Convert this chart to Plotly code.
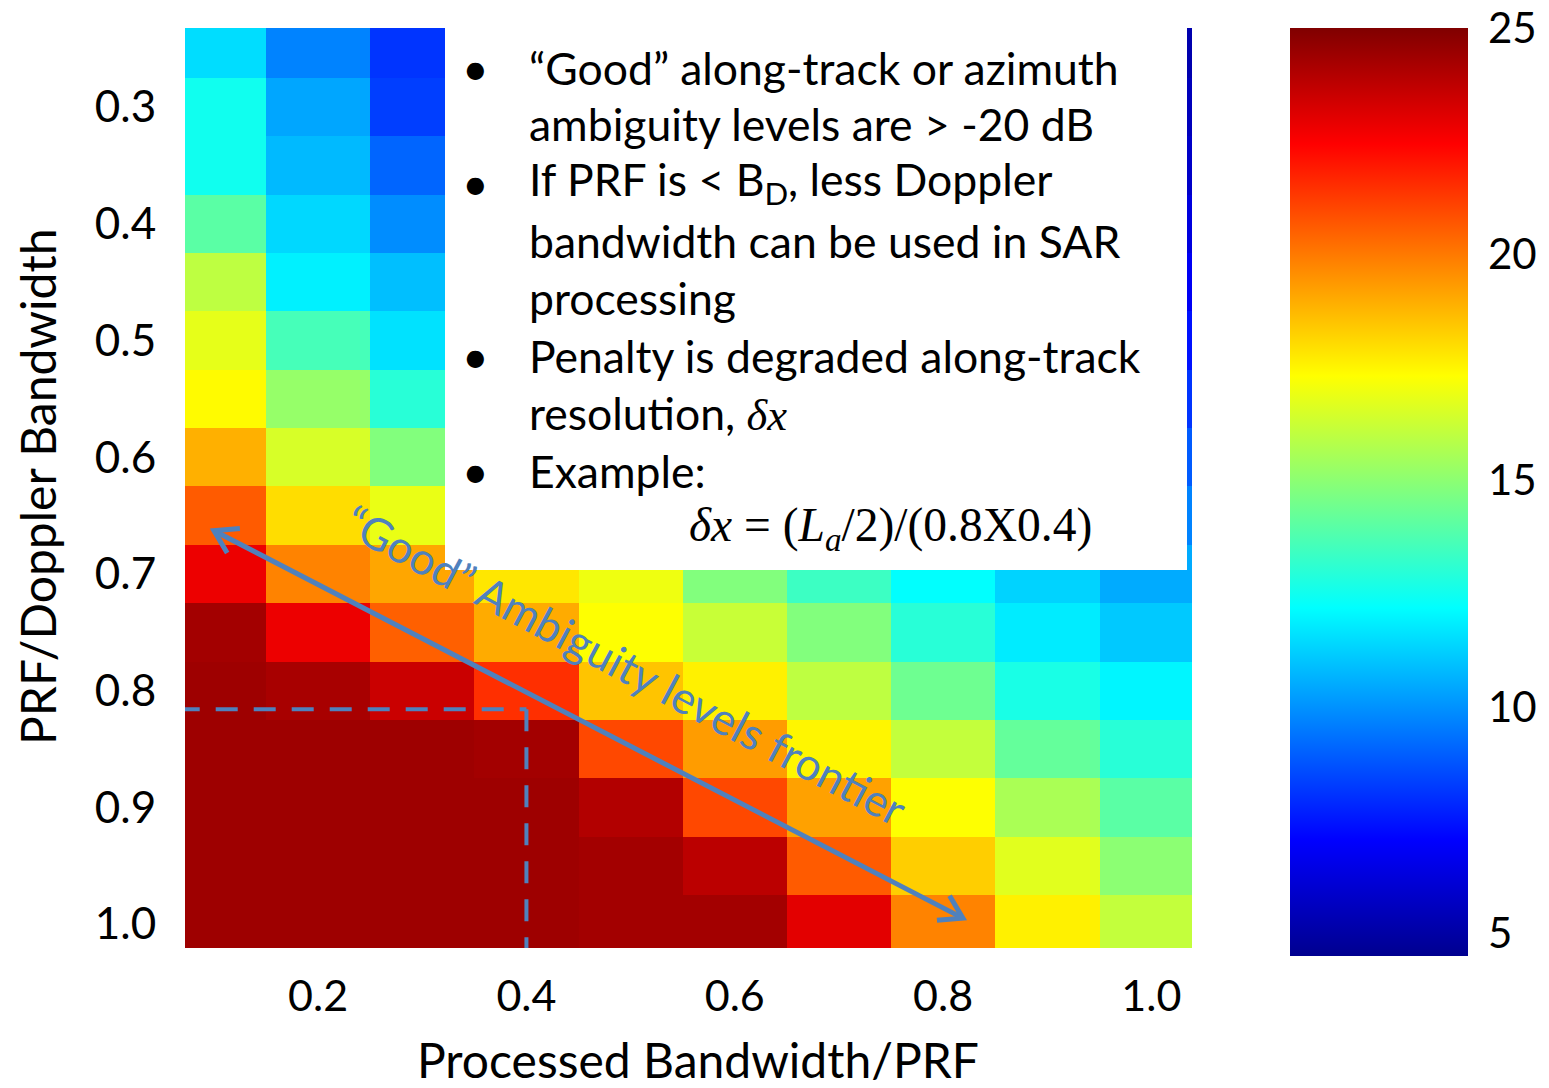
import numpy as np
import plotly.graph_objects as go

# ---------------- data ----------------
bw_ratio = [0.1, 0.2, 0.3, 0.4, 0.5, 0.6, 0.7, 0.8, 0.9, 1.0]          # Processed Bandwidth / PRF
prf_ratio = [0.25, 0.30, 0.35, 0.40, 0.45, 0.50, 0.55, 0.60,
             0.65, 0.70, 0.75, 0.80, 0.85, 0.90, 0.95, 1.00]           # PRF / Doppler Bandwidth

row_025 = [11.5, 9.7, 8.1, 7.5, 7.0, 6.6, 6.2, 5.8, 5.5, 5.2]
row_030 = [12.5, 10.4, 8.3, 7.8, 7.3, 6.9, 6.5, 6.1, 5.8, 5.5]
row_035 = [12.5, 10.8, 9.1, 8.3, 7.8, 7.3, 6.9, 6.5, 6.2, 5.8]
row_040 = [14.0, 11.4, 9.9, 9.0, 8.4, 7.9, 7.4, 7.0, 6.6, 6.3]
row_045 = [16.0, 11.9, 10.9, 9.8, 9.1, 8.6, 8.1, 7.6, 7.2, 6.8]
row_050 = [16.8, 13.6, 11.6, 10.6, 9.9, 9.3, 8.8, 8.3, 7.8, 7.4]
row_055 = [17.4, 15.2, 13.0, 11.5, 10.8, 10.2, 9.6, 9.1, 8.6, 8.1]
row_060 = [18.9, 16.5, 14.8, 12.8, 11.8, 11.2, 10.5, 10.0, 9.4, 8.9]
row_065 = [20.6, 18.0, 16.9, 15.0, 13.5, 12.5, 11.7, 11.0, 10.3, 9.7]
row_070 = [22.8, 19.8, 19.1, 17.8, 17.0, 14.8, 13.4, 12.2, 11.3, 10.5]
row_075 = [24.3, 22.8, 20.5, 19.0, 17.3, 16.2, 14.8, 13.0, 11.8, 11.1]
row_080 = [24.4, 24.2, 23.5, 21.5, 18.5, 17.6, 16.0, 14.4, 12.7, 12.0]
row_085 = [24.4, 24.4, 24.4, 24.3, 21.0, 19.3, 17.5, 16.1, 14.2, 13.0]
row_090 = [24.4, 24.4, 24.4, 24.4, 24.0, 21.0, 19.2, 17.3, 15.6, 14.0]
row_095 = [24.4, 24.4, 24.4, 24.4, 24.3, 23.8, 20.6, 18.3, 16.7, 15.0]
row_100 = [24.4, 24.4, 24.4, 24.4, 24.3, 24.3, 23.0, 19.8, 17.6, 16.1]

z_values = [row_025, row_030, row_035, row_040, row_045, row_050, row_055, row_060,
            row_065, row_070, row_075, row_080, row_085, row_090, row_095, row_100]

x_ticks = [0.2, 0.4, 0.6, 0.8, 1.0]
x_ticklabels = ["0.2", "0.4", "0.6", "0.8", "1.0"]
y_ticks = [0.3, 0.4, 0.5, 0.6, 0.7, 0.8, 0.9, 1.0]
y_ticklabels = ["0.3", "0.4", "0.5", "0.6", "0.7", "0.8", "0.9", "1.0"]
cbar_ticks = [5, 10, 15, 20, 25]

example_bw = 0.4
example_prf = 0.816
frontier_start = (0.100, 0.663)
frontier_end = (0.819, 0.995)

bullet_lines = [
    (67, True, "“Good” along-track or azimuth"),
    (124, False, "ambiguity levels are &gt; -20 dB"),
    (182, True, "If PRF is &lt; B<sub>D</sub>, less Doppler"),
    (240, False, "bandwidth can be used in SAR"),
    (297, False, "processing"),
    (355, True, "Penalty is degraded along-track"),
    (413, False, "resolution, <span style='font-family:Liberation Serif'><i>δx</i></span>"),
    (470, True, "Example:"),
]
formula = "<i>δx</i> = (<i>L<sub>a</sub></i>/2)/(0.8X0.4)"

# ---------------- layout geometry (reference page pixels) ----------------
OFF = 8                      # page body margin
W, H = 1549 - OFF, 1088 - 2 * OFF
L, T = 185, 28               # plot-area top-left on the page
PW, PH = 1007, 920
XR = [0.0722, 1.039]
YR = [1.0206, 0.2323]        # reversed

BLUE = "#4F81BD"
FONT = "Lato"

def px_x(px):
    return (px - L) / PW

def px_y(py):
    return 1 - (py - T) / PH

def d2p(x, y):
    return (L + (x - XR[0]) / (XR[1] - XR[0]) * PW,
            T + (y - YR[1]) / (YR[0] - YR[1]) * PH)

def p2d(px, py):
    return (XR[0] + (px - L) / PW * (XR[1] - XR[0]),
            YR[1] + (py - T) / PH * (YR[0] - YR[1]))

jet = [[0.0, "rgb(0,0,143)"], [0.125, "rgb(0,0,255)"], [0.375, "rgb(0,255,255)"],
       [0.625, "rgb(255,255,0)"], [0.875, "rgb(255,0,0)"], [1.0, "rgb(128,0,0)"]]

fig = go.Figure(go.Heatmap(
    x=bw_ratio, y=prf_ratio, z=z_values,
    colorscale=jet, zmin=4.5, zmax=25, zsmooth=False,
    colorbar=dict(
        x=px_x(1290), xanchor="left", xpad=0, ypad=0,
        y=1.0, yanchor="top", len=928 / PH, lenmode="fraction",
        thickness=178, thicknessmode="pixels", outlinewidth=0,
        tickvals=cbar_ticks, ticks="outside", ticklen=12, tickcolor="rgba(0,0,0,0)",
        ticklabeloverflow="allow",
        tickfont=dict(family=FONT, size=42, color="black"),
    ),
    hoverinfo="skip",
))

shapes = []
# white text box
shapes.append(dict(type="rect", xref="paper", yref="paper",
                   x0=px_x(445), x1=px_x(1187), y0=px_y(570), y1=px_y(28),
                   fillcolor="white", line=dict(width=0), layer="above"))
# dashed example lines
shapes.append(dict(type="line", xref="x", yref="y", x0=XR[0] - 0.007, x1=example_bw,
                   y0=example_prf, y1=example_prf,
                   line=dict(color=BLUE, width=4, dash="22px,16px")))
shapes.append(dict(type="line", xref="x", yref="y", x0=example_bw, x1=example_bw,
                   y0=example_prf, y1=YR[0] + 0.003,
                   line=dict(color=BLUE, width=4, dash="22px,16px")))
# double-headed arrow
shapes.append(dict(type="line", xref="x", yref="y",
                   x0=frontier_start[0], y0=frontier_start[1],
                   x1=frontier_end[0], y1=frontier_end[1],
                   line=dict(color=BLUE, width=5)))
s_px = np.array(d2p(*frontier_start))
e_px = np.array(d2p(*frontier_end))
u = (e_px - s_px) / np.linalg.norm(e_px - s_px)

def rot(v, deg):
    a = np.radians(deg)
    return np.array([v[0] * np.cos(a) - v[1] * np.sin(a), v[0] * np.sin(a) + v[1] * np.cos(a)])

for tip, back in ((s_px, u), (e_px, -u)):
    a1 = tip + 26 * rot(back, 32)
    a2 = tip + 26 * rot(back, -32)
    p1, pt, p2 = p2d(*a1), p2d(*tip), p2d(*a2)
    shapes.append(dict(type="path", xref="x", yref="y",
                       path=f"M {p1[0]},{p1[1]} L {pt[0]},{pt[1]} L {p2[0]},{p2[1]}",
                       line=dict(color=BLUE, width=5)))

annotations = []
for yc, bullet, txt in bullet_lines:
    if bullet:
        annotations.append(dict(xref="paper", yref="paper", x=px_x(475), y=px_y(yc),
                                text="•", showarrow=False, xanchor="center", yanchor="middle",
                                font=dict(family=FONT, size=46, color="black")))
    annotations.append(dict(xref="paper", yref="paper", x=px_x(527), y=px_y(yc),
                            text=txt, showarrow=False, xanchor="left", yanchor="middle",
                            font=dict(family=FONT, size=44.5, color="black")))
annotations.append(dict(xref="paper", yref="paper", x=px_x(890), y=px_y(528),
                        text=formula, showarrow=False, xanchor="center", yanchor="middle",
                        font=dict(family="Liberation Serif", size=47.5, color="black")))
# frontier label
lab = p2d(626, 664)
annotations.append(dict(xref="x", yref="y", x=lab[0], y=lab[1],
                        text="“Good” Ambiguity levels frontier", showarrow=False,
                        textangle=28, xanchor="center", yanchor="middle",
                        font=dict(family=FONT, size=44.5, color=BLUE)))
# axis titles
annotations.append(dict(xref="paper", yref="paper", x=px_x(37), y=px_y(487),
                        text="PRF/Doppler Bandwidth", showarrow=False, textangle=-90,
                        xanchor="center", yanchor="middle",
                        font=dict(family=FONT, size=48, color="black")))
annotations.append(dict(xref="paper", yref="paper", x=px_x(698), y=px_y(1059),
                        text="Processed Bandwidth/PRF", showarrow=False,
                        xanchor="center", yanchor="middle",
                        font=dict(family=FONT, size=48, color="black")))

fig.update_layout(
    width=W, height=H,
    margin=dict(l=L - OFF, r=W - (L - OFF) - PW, t=T - OFF, b=H - (T - OFF) - PH,
                autoexpand=False),
    paper_bgcolor="white", plot_bgcolor="white",
    xaxis=dict(range=XR, tickvals=x_ticks, ticktext=x_ticklabels, showgrid=False,
               zeroline=False, showline=False, ticks="outside", ticklen=10,
               tickcolor="rgba(0,0,0,0)",
               tickfont=dict(family=FONT, size=43, color="black")),
    yaxis=dict(range=YR, tickvals=y_ticks, ticktext=y_ticklabels, showgrid=False,
               zeroline=False, showline=False, ticks="outside", ticklen=19,
               tickcolor="rgba(0,0,0,0)",
               tickfont=dict(family=FONT, size=44, color="black")),
    shapes=shapes, annotations=annotations, showlegend=False,
)

fig.write_html("out.html")
